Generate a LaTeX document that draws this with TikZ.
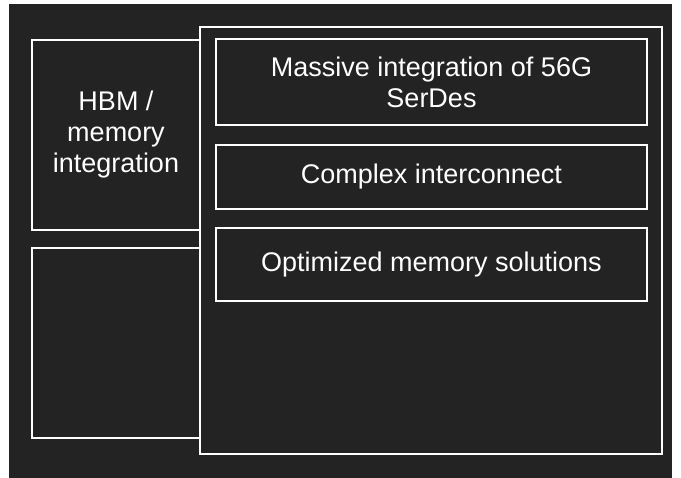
\documentclass[tikz,border=0pt]{standalone}
\usepackage{fontspec}
\setmainfont{Liberation Sans}
\definecolor{bgdark}{RGB}{34,35,34}
\begin{document}
\begin{tikzpicture}[x=1pt,y=-1pt,
  box/.style={draw=white, line width=1.7pt, fill=bgdark, text=white, inner sep=0pt, outer sep=0pt,
    align=center, font=\fontsize{27}{31}\selectfont},
  ]
\fill[white] (0,0) rectangle (681,478);
\useasboundingbox (0,0) rectangle (681,478);
\fill[bgdark] (9,4) rectangle (672,478);
\node[box, minimum width=168pt, minimum height=190pt] (hbm) at (116,135) {HBM /\\memory\\integration};
\node[box, minimum width=168pt, minimum height=190pt] (low) at (116,343) {};
\node[box, minimum width=462pt, minimum height=427pt] (chip) at (431,240.5) {};
\node[box, minimum width=431pt, minimum height=86pt] (serdes) at (431.5,82) {Massive integration of 56G\\SerDes};
\node[box, minimum width=431pt, minimum height=64pt] (inter) at (431.5,177) {Complex interconnect};
\node[box, minimum width=431pt, minimum height=73pt] (mem) at (431.5,264.5) {Optimized memory solutions};
\end{tikzpicture}
\end{document}
